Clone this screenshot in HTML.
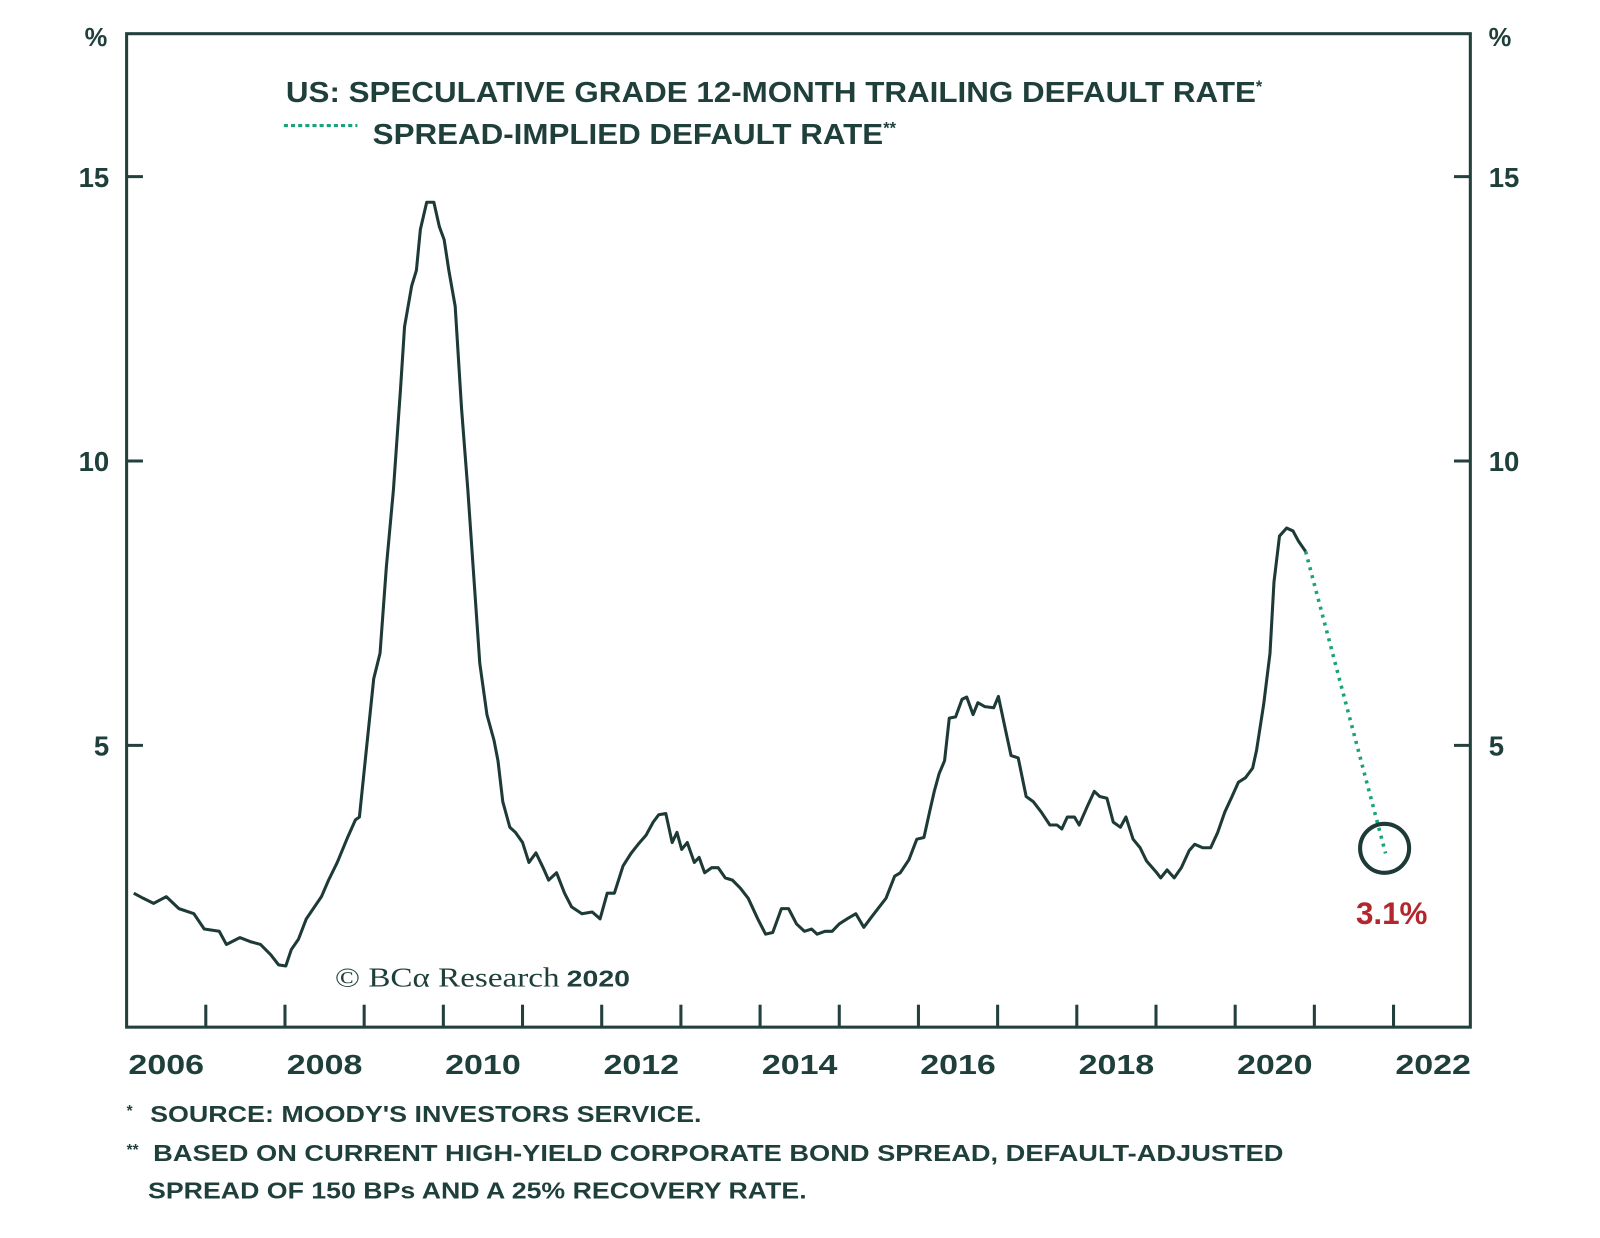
<!DOCTYPE html>
<html><head><meta charset="utf-8"><style>
html,body{margin:0;padding:0;background:#fff;}
svg text{font-family:"Liberation Sans",sans-serif;font-weight:bold;fill:#1f3f3b;}
</style></head><body>
<svg width="1600" height="1233" viewBox="0 0 1567 1207.6" preserveAspectRatio="none">
<rect x="124" y="33" width="1316" height="973" fill="none" stroke="#23403c" stroke-width="3"/>
<g id="axes"></g>
<g id="series"></g>
<text x="94" y="45" font-size="25" text-anchor="middle">%</text>
<text x="1469" y="45" font-size="25" text-anchor="middle">%</text>
<text x="280" y="100" font-size="28"><tspan textLength="950" lengthAdjust="spacingAndGlyphs">US: SPECULATIVE GRADE 12-MONTH TRAILING DEFAULT RATE</tspan><tspan font-size="16" dy="-10">*</tspan></text>
<line x1="278" y1="123" x2="350" y2="123" stroke="#1aa37a" stroke-width="3" stroke-dasharray="4,3"/>
<text x="365" y="141" font-size="28"><tspan textLength="500" lengthAdjust="spacingAndGlyphs">SPREAD-IMPLIED DEFAULT RATE</tspan><tspan font-size="16" dy="-10">**</tspan></text>
<text x="328" y="966" font-size="27" style="font-family:'Liberation Serif',serif;font-weight:normal"><tspan textLength="220" lengthAdjust="spacingAndGlyphs">© BCα Research</tspan><tspan x="555" style="font-family:'Liberation Sans',sans-serif;font-weight:bold" font-size="23" textLength="62" lengthAdjust="spacingAndGlyphs">2020</tspan></text>
<text x="1328" y="905" font-size="31" textLength="70" lengthAdjust="spacingAndGlyphs" style="fill:#b3262d">3.1%</text>
<text x="124" y="1099" font-size="23"><tspan font-size="15" dy="-6">*</tspan><tspan x="147" dy="6" textLength="540" lengthAdjust="spacingAndGlyphs">SOURCE: MOODY'S INVESTORS SERVICE.</tspan></text>
<text x="124" y="1137" font-size="23"><tspan font-size="15" dy="-6">**</tspan><tspan x="150" dy="6" textLength="1107" lengthAdjust="spacingAndGlyphs">BASED ON CURRENT HIGH-YIELD CORPORATE BOND SPREAD, DEFAULT-ADJUSTED</tspan></text>
<text x="145" y="1174" font-size="23" textLength="645" lengthAdjust="spacingAndGlyphs">SPREAD OF 150 BPs AND A 25% RECOVERY RATE.</text>
</svg>
<script>
const yTicks=[5,10,15];
const xLabels=[2006,2008,2010,2012,2014,2016,2018,2020,2022];
const yearsSince2006=[0.09,0.21,0.34,0.50,0.66,0.85,0.98,1.17,1.26,1.43,1.56,1.69,1.82,1.92,2.01,2.08,2.17,2.27,2.46,2.55,2.66,2.79,2.89,2.94,3.02,3.12,3.20,3.28,3.37,3.46,3.51,3.60,3.66,3.71,3.79,3.88,3.95,4.01,4.07,4.15,4.23,4.31,4.38,4.46,4.55,4.64,4.69,4.75,4.84,4.91,5.00,5.08,5.17,5.26,5.33,5.43,5.53,5.62,5.75,5.88,5.98,6.07,6.16,6.27,6.37,6.46,6.56,6.65,6.72,6.81,6.89,6.95,7.01,7.08,7.17,7.23,7.30,7.39,7.47,7.56,7.65,7.75,7.85,7.97,8.07,8.16,8.27,8.36,8.46,8.56,8.65,8.72,8.82,8.91,9.00,9.10,9.21,9.31,9.39,9.49,9.59,9.70,9.77,9.88,9.98,10.07,10.14,10.20,10.26,10.33,10.39,10.47,10.55,10.61,10.69,10.75,10.84,10.95,11.01,11.10,11.17,11.26,11.36,11.45,11.55,11.66,11.75,11.81,11.88,11.97,12.03,12.13,12.22,12.29,12.38,12.46,12.55,12.62,12.71,12.80,12.88,13.01,13.06,13.14,13.23,13.32,13.42,13.49,13.59,13.69,13.78,13.87,13.96,14.04,14.13,14.22,14.27,14.36,14.44,14.49,14.56,14.65,14.73,14.80,14.89];
const defaultRate=[2.40,2.31,2.22,2.34,2.13,2.04,1.77,1.73,1.50,1.62,1.55,1.50,1.32,1.14,1.12,1.41,1.59,1.95,2.34,2.63,2.94,3.38,3.69,3.74,4.82,6.17,6.62,8.14,9.49,11.28,12.36,13.08,13.35,14.07,14.55,14.55,14.12,13.89,13.35,12.72,10.93,9.49,8.05,6.44,5.54,5.09,4.73,4.01,3.56,3.47,3.29,2.94,3.11,2.85,2.63,2.76,2.40,2.16,2.04,2.07,1.95,2.40,2.40,2.88,3.10,3.26,3.42,3.65,3.78,3.80,3.29,3.47,3.17,3.29,2.94,3.03,2.76,2.85,2.85,2.67,2.63,2.49,2.31,1.95,1.68,1.71,2.13,2.13,1.86,1.73,1.77,1.68,1.73,1.73,1.86,1.95,2.04,1.80,1.95,2.13,2.31,2.70,2.76,2.99,3.35,3.38,3.83,4.19,4.50,4.73,5.48,5.50,5.81,5.85,5.54,5.75,5.68,5.66,5.86,5.27,4.82,4.78,4.10,4.01,3.83,3.60,3.60,3.53,3.74,3.74,3.60,3.92,4.19,4.10,4.07,3.65,3.56,3.74,3.35,3.20,2.97,2.76,2.67,2.81,2.67,2.85,3.15,3.26,3.20,3.20,3.47,3.83,4.10,4.35,4.43,4.60,4.91,5.72,6.62,7.87,8.68,8.82,8.77,8.59,8.41];
const projectionYears=[14.89,15.90];
const projectionValues=[8.41,3.1];

const NS="http://www.w3.org/2000/svg";
const X0=124,XW=77.55,Y0=1008.5,YU=55.7;
const xs=t=>X0+t*XW, ys=v=>Y0-v*YU;
const axes=document.getElementById('axes'), series=document.getElementById('series');
function mk(tag,attrs,parent){const e=document.createElementNS(NS,tag);for(const k in attrs)e.setAttribute(k,attrs[k]);parent.appendChild(e);return e;}
yTicks.forEach(v=>{
  const l=mk('line',{x1:124,x2:140,y1:ys(v),y2:ys(v),stroke:'#23403c','stroke-width':3},axes);
  
  
  const r=mk('line',{x1:1424,x2:1440,y1:ys(v),y2:ys(v),stroke:'#23403c','stroke-width':3},axes);
  
  
  const tl=mk('text',{x:107,y:ys(v)+10,'font-size':27,'text-anchor':'end'},axes);tl.textContent=v;
  
  
  const tr=mk('text',{x:1458,y:ys(v)+10,'font-size':27},axes);tr.textContent=v;
  
  
});
for(let y=2007;y<=2022;y++){
  const l=mk('line',{x1:xs(y-2006),x2:xs(y-2006),y1:984,y2:1006,stroke:'#23403c','stroke-width':3},axes);
  
  
}
xLabels.forEach(y=>{
  const t=mk('text',{x:xs(y-2006+0.5),y:1052,'font-size':27,'text-anchor':'middle',textLength:74,lengthAdjust:'spacingAndGlyphs'},axes);t.textContent=y;
  
  
});
const pts=yearsSince2006.map((t,i)=>xs(t).toFixed(1)+','+ys(defaultRate[i]).toFixed(1)).join(' ');
const line=mk('polyline',{points:pts,fill:'none',stroke:'#1d3a36','stroke-width':3,'stroke-linejoin':'round'},series);


const pp=projectionYears.map((t,i)=>xs(t).toFixed(1)+','+ys(projectionValues[i]).toFixed(1)).join(' ');
const dl=mk('polyline',{points:pp,fill:'none',stroke:'#1aa37a','stroke-width':3.5,'stroke-dasharray':'3,5'},series);


const c=mk('circle',{cx:xs(projectionYears[1])-1,cy:ys(projectionValues[1])-5,r:24,fill:'none',stroke:'#1d3a36','stroke-width':4},series);


</script>
</body></html>
